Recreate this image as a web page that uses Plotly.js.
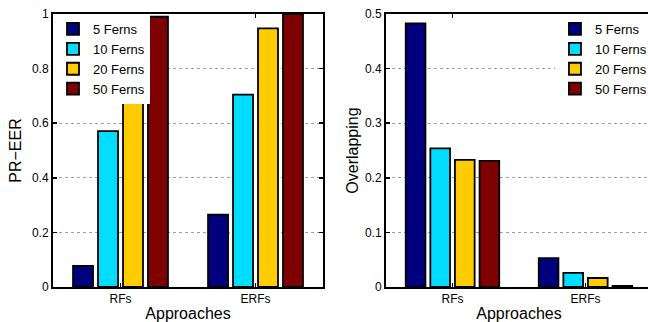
<!DOCTYPE html>
<html>
<head>
<meta charset="utf-8">
<script src="https://cdn.plot.ly/plotly-3.0.1.min.js"></script>
<style>
html,body{margin:0;padding:0;background:#fff;}
#wrap{position:relative;width:648px;height:322px;overflow:hidden;}
#chart{position:absolute;left:0;top:0;width:660px;height:322px;}
</style>
</head>
<body>
<div id="wrap"><div id="chart"></div></div>
<script>
const categories = ["RFs", "ERFs"];
const seriesNames = ["5 Ferns", "10 Ferns", "20 Ferns", "50 Ferns"];
const colors = ["#00007F", "#00DDFF", "#FFCC00", "#7F0000"];

// Left panel: PR-EER
const prEer5 = [0.077, 0.265];
const prEer10 = [0.571, 0.705];
const prEer20 = [0.89, 0.947];
const prEer50 = [0.99, 1.0];

// Right panel: Overlapping
const overlap5 = [0.483, 0.053];
const overlap10 = [0.254, 0.026];
const overlap20 = [0.233, 0.0165];
const overlap50 = [0.231, 0.002];

const leftSeries = [prEer5, prEer10, prEer20, prEer50];
const rightSeries = [overlap5, overlap10, overlap20, overlap50];

const FONT = "Liberation Sans, Arial, Helvetica, sans-serif";
const traces = [];
leftSeries.forEach((vals, i) => {
  traces.push({
    type: "bar", x: categories, y: vals, name: seriesNames[i],
    xaxis: "x", yaxis: "y", legend: "legend",
    marker: {color: colors[i], line: {color: "#000", width: 1.8}}
  });
});
rightSeries.forEach((vals, i) => {
  traces.push({
    type: "bar", x: categories, y: vals, name: seriesNames[i],
    xaxis: "x2", yaxis: "y2", legend: "legend2",
    marker: {color: colors[i], line: {color: "#000", width: 1.8}}
  });
});

const xCommon = {
  type: "category", range: [-0.5, 1.5], showline: true, linecolor: "#000", linewidth: 2,
  mirror: "ticks", ticks: "inside", ticklen: 4, tickcolor: "#000", tickwidth: 1.5,
  showgrid: false, zeroline: false, fixedrange: true,
  tickfont: {family: FONT, size: 12, color: "#000"},
  title: {text: "Approaches", font: {family: FONT, size: 16, color: "#000"}, standoff: 2}
};
const yCommon = {
  showline: true, linecolor: "#000", linewidth: 2, mirror: "ticks",
  ticks: "inside", ticklen: 4, tickcolor: "#000", tickwidth: 1.5,
  showgrid: true, gridcolor: "#a0a0a0", griddash: "dot", gridwidth: 1,
  zeroline: false, fixedrange: true,
  tickfont: {family: FONT, size: 12, color: "#000"}
};

const layout = {
  width: 660, height: 322, autosize: false,
  margin: {l: 53, r: 8, t: 14, b: 35, autoexpand: false},
  paper_bgcolor: "#fff", plot_bgcolor: "#fff",
  barmode: "group", bargap: 0.26, bargroupgap: 0.2,
  showlegend: true,
  xaxis: Object.assign({}, xCommon, {domain: [0, 0.4508], anchor: "y"}),
  xaxis2: Object.assign({}, xCommon, {domain: [0.5559, 1], anchor: "y2"}),
  yaxis: Object.assign({}, yCommon, {range: [0, 1], dtick: 0.2, anchor: "x",
    title: {text: "PR\u2212EER", font: {family: FONT, size: 16, color: "#000"}, standoff: 6}}),
  yaxis2: Object.assign({}, yCommon, {range: [0, 0.5], dtick: 0.1, anchor: "x2",
    title: {text: "Overlapping", font: {family: FONT, size: 16, color: "#000"}, standoff: 2}}),
  legend: {x: 0.0, y: 1.0, xanchor: "left", yanchor: "top", bgcolor: "#fff",
    borderwidth: 0, font: {family: FONT, size: 13, color: "#000"}, tracegroupgap: 0,
    itemwidth: 30},
  legend2: {x: 0.838, y: 1.0, xanchor: "left", yanchor: "top", bgcolor: "#fff",
    borderwidth: 0, font: {family: FONT, size: 13, color: "#000"}, tracegroupgap: 0,
    itemwidth: 30}
};

Plotly.newPlot("chart", traces, layout, {displayModeBar: false, staticPlot: true});
</script>
</body>
</html>
